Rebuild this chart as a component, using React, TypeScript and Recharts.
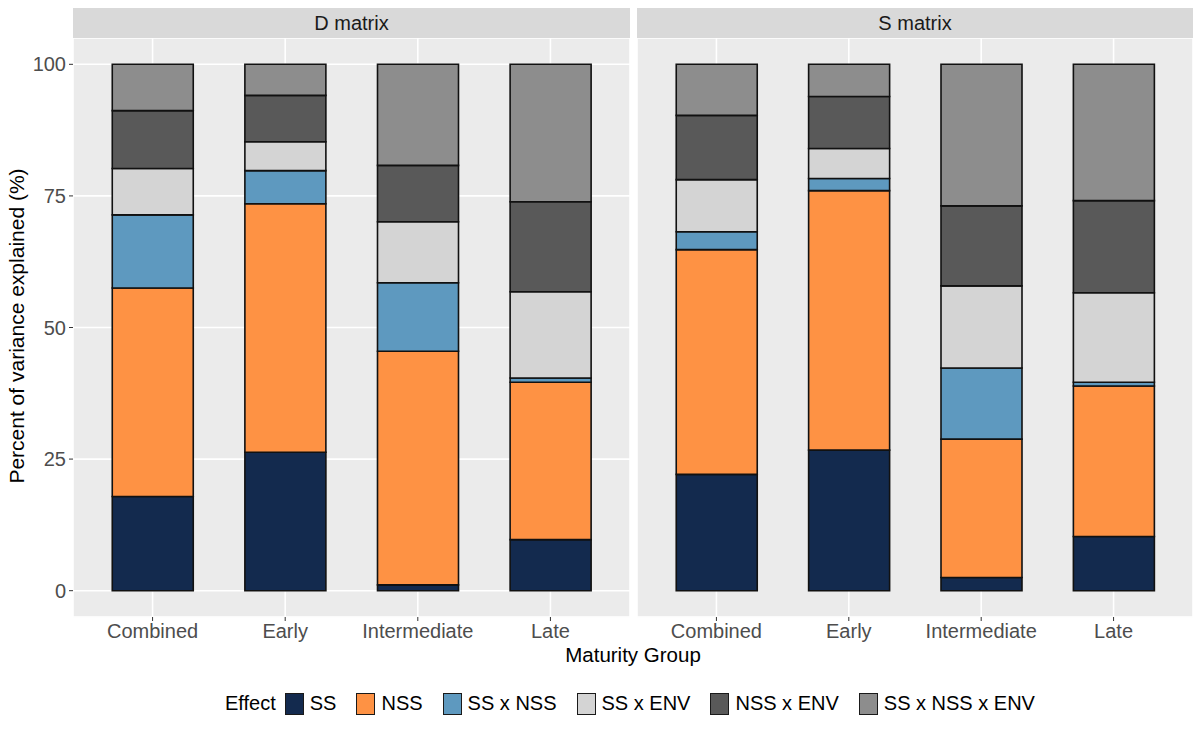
import { BarChart, Bar, XAxis, YAxis, CartesianGrid } from 'recharts'

const groups = ['Combined', 'Early', 'Intermediate', 'Late']
const effects = ['SS', 'NSS', 'SS x NSS', 'SS x ENV', 'NSS x ENV', 'SS x NSS x ENV']
const effectColors = ['#132a4e', '#fe9244', '#5e99bf', '#d4d4d4', '#595959', '#8d8d8d']
const yTicks = [0, 25, 50, 75, 100]
const yMinorTicks = [12.5, 37.5, 62.5, 87.5]

// values per effect, in the order of groups
const dSS = [17.9, 26.3, 1.1, 9.7]
const dNSS = [39.6, 47.2, 44.4, 29.9]
const dSSxNSS = [13.9, 6.3, 13.0, 0.8]
const dSSxENV = [8.8, 5.5, 11.6, 16.4]
const dNSSxENV = [11.0, 8.8, 10.7, 17.1]
const dSSxNSSxENV = [8.8, 5.9, 19.2, 26.1]

const sSS = [22.1, 26.7, 2.5, 10.3]
const sNSS = [42.7, 49.3, 26.3, 28.6]
const sSSxNSS = [3.4, 2.3, 13.5, 0.7]
const sSSxENV = [9.9, 5.7, 15.6, 17.0]
const sNSSxENV = [12.2, 9.9, 15.2, 17.5]
const sSSxNSSxENV = [9.7, 6.1, 26.9, 25.9]

const toRows = (series: number[][]) =>
  groups.map((g, i) => {
    const row: Record<string, string | number> = { group: g }
    effects.forEach((e, k) => (row[e] = series[k][i]))
    return row
  })

const dRows = toRows([dSS, dNSS, dSSxNSS, dSSxENV, dNSSxENV, dSSxNSSxENV])
const sRows = toRows([sSS, sNSS, sSSxNSS, sSSxENV, sNSSxENV, sSSxNSSxENV])

const FONT = 'Arial, "Liberation Sans", Helvetica, sans-serif'
const tickStyle = { fill: '#4d4d4d', fontSize: 20, fontFamily: FONT }

function Panel({ title, rows, left, width, showY }: { title: string; rows: Record<string, string | number>[]; left: number; width: number; showY: boolean }) {
  const yw = showY ? 73 : 0
  const plotW = width - yw
  const unit = plotW / 4.2
  const pad = unit * 0.1
  return (
    <>
      <div style={{ position: 'absolute', left: left + yw, top: 8, width: plotW, height: 30, background: '#d9d9d9', color: '#1a1a1a', fontSize: 20, fontFamily: FONT, display: 'flex', alignItems: 'center', justifyContent: 'center' }}>
        {title}
      </div>
      <div style={{ position: 'absolute', left, top: 38 }}>
        <BarChart width={width} height={609} data={rows} margin={{ top: 0, right: 0, left: 0, bottom: 0 }} barSize={81}>
          <CartesianGrid yAxisId="minor" vertical={false} stroke="#f7f7f7" strokeWidth={0.8} fill="#ebebeb" />
          <CartesianGrid stroke="#ffffff" strokeWidth={1.6} />
          <XAxis dataKey="group" height={30} padding={{ left: pad, right: pad }} tick={tickStyle} tickSize={4} tickMargin={3} tickLine={{ stroke: '#333333' }} axisLine={false} interval={0} />
          {showY ? (
            <YAxis domain={[-5, 105]} ticks={yTicks} width={73} tick={tickStyle} tickSize={4} tickMargin={3} tickLine={{ stroke: '#333333' }} axisLine={false} allowDataOverflow />
          ) : (
            <YAxis domain={[-5, 105]} ticks={yTicks} width={0} tick={false} tickLine={false} axisLine={false} allowDataOverflow />
          )}
          <YAxis yAxisId="minor" domain={[-5, 105]} ticks={yMinorTicks} width={0} tick={false} tickLine={false} axisLine={false} allowDataOverflow />
          {effects.map((e, k) => (
            <Bar key={e} dataKey={e} stackId="a" fill={effectColors[k]} stroke="#111111" strokeWidth={1.6} isAnimationActive={false} />
          ))}
        </BarChart>
      </div>
    </>
  )
}

export default function App() {
  return (
    <div style={{ position: 'absolute', left: 0, top: 0, width: 1200, height: 732, background: '#ffffff', fontFamily: FONT }}>
      <Panel title="D matrix" rows={dRows} left={0} width={630} showY />
      <Panel title="S matrix" rows={sRows} left={637} width={556} showY={false} />
      <div style={{ position: 'absolute', left: 17, top: 326, transform: 'translate(-50%, -50%) rotate(-90deg)', whiteSpace: 'nowrap', fontSize: 21, color: '#000000' }}>
        Percent of variance explained (%)
      </div>
      <div style={{ position: 'absolute', left: 633, top: 643, transform: 'translateX(-50%)', whiteSpace: 'nowrap', fontSize: 20.5, color: '#000000' }}>
        Maturity Group
      </div>
      <div style={{ position: 'absolute', left: 225, top: 692, display: 'flex', alignItems: 'center', fontSize: 20, color: '#000000', whiteSpace: 'nowrap' }}>
        <span style={{ marginRight: 9 }}>Effect</span>
        {effects.map((e, k) => (
          <span key={e} style={{ display: 'flex', alignItems: 'center', marginRight: 20 }}>
            <span style={{ display: 'inline-block', width: 19, height: 22, background: effectColors[k], border: '1.5px solid #1a1a1a', boxSizing: 'border-box', marginRight: 6 }} />
            {e}
          </span>
        ))}
      </div>
    </div>
  )
}
